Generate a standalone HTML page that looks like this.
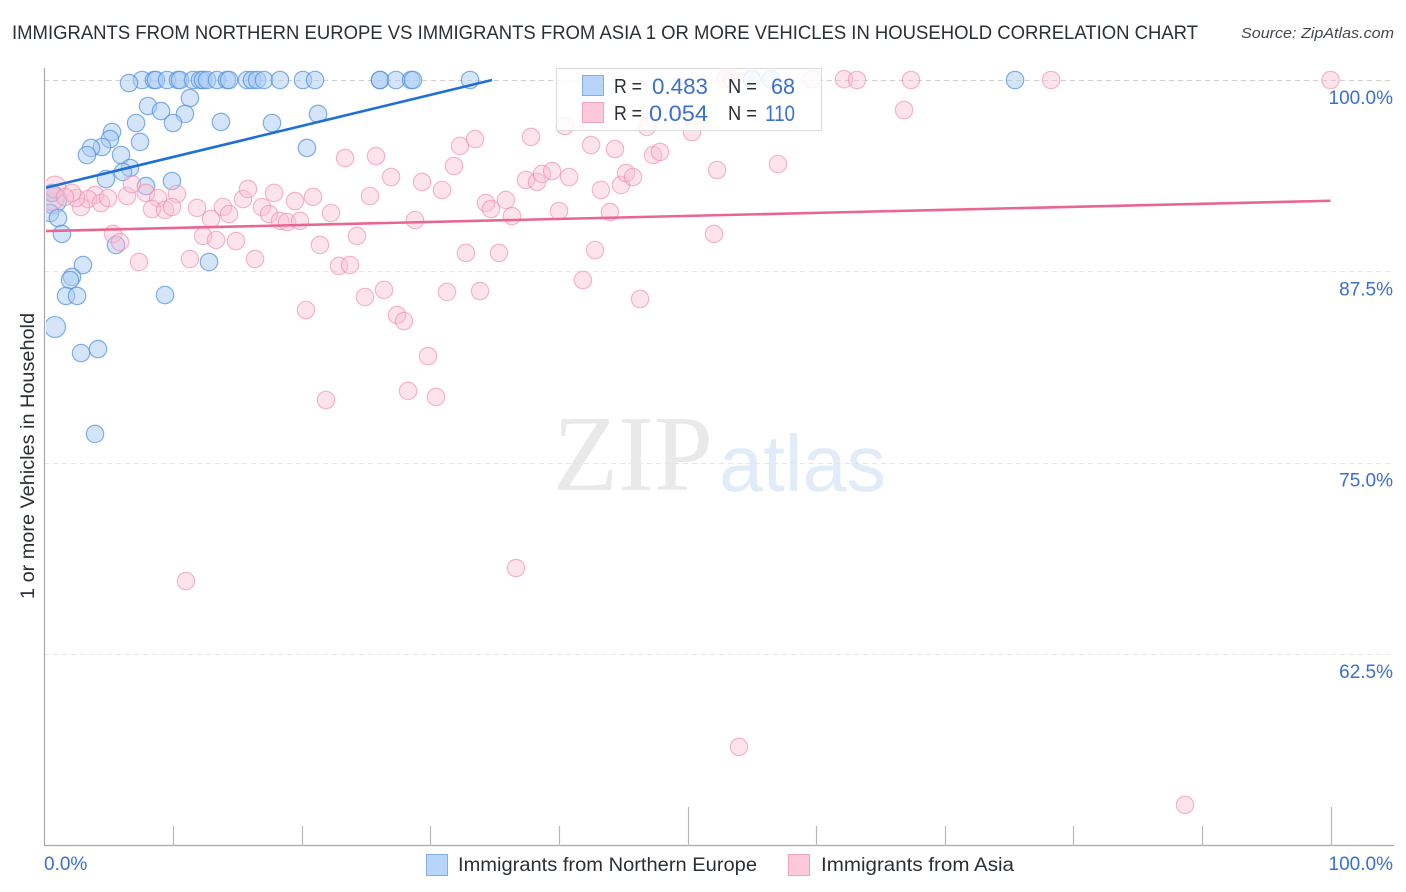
<!DOCTYPE html>
<html lang="en">
<head>
<meta charset="utf-8">
<title>Immigrants from Northern Europe vs Immigrants from Asia correlation chart</title>
<style>
html,body{margin:0;padding:0;background:#fff;width:1406px;height:892px;overflow:hidden}
svg{display:block;font-family:"Liberation Sans",sans-serif}
</style>
</head>
<body>
<svg id="chart" width="1406" height="892" viewBox="0 0 1406 892" xmlns="http://www.w3.org/2000/svg">
  <defs><clipPath id="plot-clip"><rect x="46" y="60" width="1360" height="786"/></clipPath></defs>
  <text x="12" y="39" font-size="19.5" fill="#2b2f36" textLength="1186" lengthAdjust="spacingAndGlyphs">IMMIGRANTS FROM NORTHERN EUROPE VS IMMIGRANTS FROM ASIA 1 OR MORE VEHICLES IN HOUSEHOLD CORRELATION CHART</text>
  <text x="1394" y="38" font-size="15" font-style="italic" fill="#44484f" text-anchor="end" textLength="153" lengthAdjust="spacingAndGlyphs">Source: ZipAtlas.com</text>
  <g>
    <text x="553" y="490" font-family="'Liberation Serif',serif" font-size="108" fill="#e9e9e9" textLength="160" lengthAdjust="spacingAndGlyphs">ZIP</text>
    <text x="719" y="491" font-size="80" fill="#e2ecf9" textLength="167" lengthAdjust="spacingAndGlyphs">atlas</text>
  </g>
  <g id="grid"></g>
  <g id="axes"></g>
  <g id="marks" clip-path="url(#plot-clip)"></g>
  <g id="trends" clip-path="url(#plot-clip)"></g>
  <g>
    <rect x="556.5" y="68.5" width="265" height="62" fill="#fff" fill-opacity="0.82" stroke="#dcdcdc" stroke-width="1"/>
    <rect x="582.5" y="75.5" width="21" height="20" fill="#b8d4f8" stroke="#7fb0ea"/>
    <rect x="582.5" y="102.5" width="21" height="20" fill="#fdc8d9" stroke="#f4a3bd"/>
    <g font-size="20" fill="#2b2f36">
      <text x="614" y="93" textLength="28" lengthAdjust="spacingAndGlyphs">R =</text>
      <text x="728" y="93" textLength="29" lengthAdjust="spacingAndGlyphs">N =</text>
      <text x="614" y="120" textLength="28" lengthAdjust="spacingAndGlyphs">R =</text>
      <text x="728" y="120" textLength="29" lengthAdjust="spacingAndGlyphs">N =</text>
    </g>
    <g font-size="22" fill="#3b6fd0">
      <text x="652" y="94" textLength="56" lengthAdjust="spacingAndGlyphs">0.483</text>
      <text x="771" y="94" textLength="24" lengthAdjust="spacingAndGlyphs">68</text>
      <text x="649" y="121" textLength="59" lengthAdjust="spacingAndGlyphs">0.054</text>
      <text x="765" y="121" textLength="30" lengthAdjust="spacingAndGlyphs">110</text>
    </g>
  </g>
  <text transform="translate(34,456) rotate(-90)" font-size="19" fill="#2b2f36" text-anchor="middle" textLength="286" lengthAdjust="spacingAndGlyphs">1 or more Vehicles in Household</text>
  <g>
    <rect x="426.5" y="854.5" width="21" height="21" fill="#b8d4f8" stroke="#7fb0ea"/>
    <text x="458" y="871" font-size="19.5" fill="#2b2f36" textLength="299" lengthAdjust="spacingAndGlyphs">Immigrants from Northern Europe</text>
    <rect x="788.5" y="854.5" width="21" height="21" fill="#fdc8d9" stroke="#f4a3bd"/>
    <text x="821" y="871" font-size="19.5" fill="#2b2f36" textLength="193" lengthAdjust="spacingAndGlyphs">Immigrants from Asia</text>
  </g>
</svg>
<script>
const yTickValues = [100, 87.5, 75, 62.5];
const yTickLabels = ["100.0%", "87.5%", "75.0%", "62.5%"];
const xTickValues = [0, 10, 20, 30, 40, 50, 60, 70, 80, 90, 100];
const xMajorTicks = [50, 100];
const xEdgeLabels = ["0.0%", "100.0%"];
const trendBlueX = [0, 34.8];
const trendBlueY = [92.94, 100];
const trendPinkX = [0, 100];
const trendPinkY = [90.13, 92.11];
const blueWeight = [1.55, 1.2];
const pinkWeight = [1.4, 1.25];
const blueX = [0.66,0.82,7.58,8.51,8.67,9.53,10.38,10.54,11.55,12.09,12.33,12.64,13.41,14.19,14.35,15.75,16.14,16.53,17.07,18.31,20.10,21.04,6.57,26.09,26.09,27.33,28.50,28.65,33.09,55.01,56.49,75.47,8.05,9.06,11.31,10.92,9.99,7.12,13.72,17.69,21.27,20.41,5.25,5.09,7.43,4.47,3.62,3.30,5.95,6.65,6.10,4.78,7.89,9.91,0.58,0.43,1.05,1.36,5.56,2.99,2.14,1.98,9.37,1.67,2.53,12.79,2.84,4.16,3.93];
const blueY = [92.16,83.86,100,100,100,100,100,100,100,100,100,100,100,100,100,100,100,100,100,100,100,100,99.80,100,100,100,100,100,100,100.05,100.05,100,98.30,97.97,98.82,97.78,97.19,97.19,97.26,97.19,97.78,95.56,96.60,96.14,95.95,95.62,95.56,95.10,95.10,94.25,93.99,93.53,93.07,93.40,92.62,91.31,90.98,89.94,89.22,87.91,87.13,86.93,85.95,85.89,85.89,88.11,82.16,82.42,76.87];
const pinkX = [0.58,0.82,3.93,3.38,2.84,2.45,2.14,1.59,4.39,4.94,6.42,6.80,7.89,8.83,10.30,8.36,9.37,9.91,11.86,12.95,13.88,14.35,15.44,15.82,16.91,17.46,17.85,19.48,20.88,18.31,18.86,19.87,22.28,23.37,5.33,5.87,12.33,13.34,14.89,21.42,7.35,11.31,16.37,22.90,23.76,24.30,25.78,26.95,25.31,29.36,30.91,31.84,32.31,33.48,37.83,40.47,42.50,44.36,46.85,50.35,47.32,47.86,52.30,57.04,37.44,38.30,38.69,39.47,40.79,43.27,44.83,45.22,45.76,34.33,34.72,35.88,36.35,40.01,43.97,28.81,52.06,32.77,35.34,42.81,52.92,53.46,59.68,62.17,63.18,67.38,78.27,100,66.84,11.0,36.66,54.0,88.69,41.87,46.31,33.87,31.30,26.40,24.92,20.33,27.41,27.95,29.82,28.27,30.44,21.89];
const pinkY = [92.29,93.01,92.49,92.22,91.70,92.29,92.62,92.36,91.96,92.29,92.42,93.20,92.62,92.29,92.55,91.57,91.51,91.70,91.64,90.92,91.70,91.24,92.22,92.88,91.70,91.24,92.62,92.09,92.36,90.79,90.72,90.79,91.31,94.90,89.94,89.41,89.81,89.55,89.48,89.22,88.11,88.30,88.30,87.85,87.91,89.81,95.03,93.66,92.42,93.34,92.81,94.38,95.69,96.14,96.28,96.99,95.75,95.49,96.93,96.60,95.10,95.30,94.12,94.51,93.47,93.34,93.86,94.05,93.66,92.81,93.14,93.92,93.66,91.96,91.57,92.16,91.11,91.44,91.37,90.85,89.94,88.70,88.70,88.89,100.05,100.05,100.05,100.05,100,100,100,100,98.04,67.26,68.11,56.42,52.63,86.93,85.69,86.21,86.15,86.28,85.82,84.97,84.64,84.25,81.96,79.68,79.29,79.09];

const SVG_NS = "http://www.w3.org/2000/svg";
const xScale = v => 44.5 + v * 12.86;
const yScale = v => 80 + (100 - v) * 15.304;
function mk(parent, tag, attrs, text) {
  const el = document.createElementNS(SVG_NS, tag);
  for (const k in attrs) el.setAttribute(k, attrs[k]);
  if (text !== undefined) el.textContent = text;
  parent.appendChild(el);
  return el;
}
const grid = document.getElementById("grid");
const axes = document.getElementById("axes");
const marks = document.getElementById("marks");
const trends = document.getElementById("trends");

yTickValues.forEach((v, i) => {
  const y = Math.round(yScale(v)) + 0.5;
  const line = mk(grid, "line", {x1: 44, x2: 1394, y1: y, y2: y, stroke: i === 0 ? "#cfcfcf" : "#e6e6e6", "stroke-width": 1, "stroke-dasharray": "5 4"});
  
  
  const label = mk(axes, "text", {x: 1393, y: yScale(v) + 24, "text-anchor": "end", "font-size": 19, fill: "#3b6fd0"}, yTickLabels[i]);
  
  
});

const yAxis = mk(axes, "line", {x1: 44.5, x2: 44.5, y1: 68, y2: 846, stroke: "#a8a8a8", "stroke-width": 1.2});


const xAxis = mk(axes, "line", {x1: 44, x2: 1394, y1: 845.5, y2: 845.5, stroke: "#a8a8a8", "stroke-width": 1.2});



xTickValues.forEach(v => {
  if (v === 0) return;
  const x = Math.round(xScale(v)) + 0.5;
  const top = xMajorTicks.includes(v) ? 807 : 826;
  const tick = mk(axes, "line", {x1: x, x2: x, y1: top, y2: 846, stroke: "#b8b8b8", "stroke-width": 1.2});
  
  
});
const xStart = mk(axes, "text", {x: 44, y: 870, "font-size": 19, fill: "#3b6fd0"}, xEdgeLabels[0]);


const xEnd = mk(axes, "text", {x: 1393, y: 870, "text-anchor": "end", "font-size": 19, fill: "#3b6fd0"}, xEdgeLabels[1]);



blueX.forEach((v, i) => {
  const dot = mk(marks, "circle", {cx: xScale(v), cy: yScale(blueY[i]), r: 8.7 * (blueWeight[i] || 1), fill: "#a9cbf5", "fill-opacity": 0.5, stroke: "#4f8fe0", "stroke-opacity": 0.7, "stroke-width": 1.2});
  
  
});
pinkX.forEach((v, i) => {
  const dot = mk(marks, "circle", {cx: xScale(v), cy: yScale(pinkY[i]), r: 8.7 * (pinkWeight[i] || 1), fill: "#fbbfd2", "fill-opacity": 0.42, stroke: "#ef8aaa", "stroke-opacity": 0.6, "stroke-width": 1.2});
  
  
});

const blueTrend = mk(trends, "line", {x1: xScale(trendBlueX[0]), y1: yScale(trendBlueY[0]), x2: xScale(trendBlueX[1]), y2: yScale(trendBlueY[1]), stroke: "#1f6fd6", "stroke-width": 2.6});


const pinkTrend = mk(trends, "line", {x1: xScale(trendPinkX[0]), y1: yScale(trendPinkY[0]), x2: xScale(trendPinkX[1]), y2: yScale(trendPinkY[1]), stroke: "#e9678f", "stroke-width": 2.6});


</script>
</body>
</html>
